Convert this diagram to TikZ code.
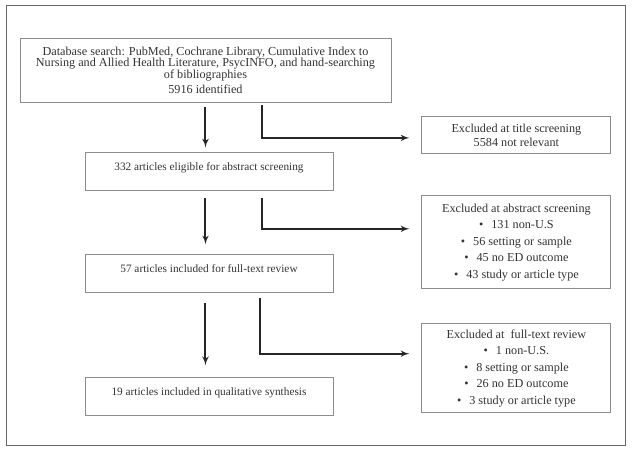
\documentclass[tikz,border=0pt]{standalone}
\usepackage{fontspec}
\setmainfont{Liberation Serif}
\usepackage{xcolor}
\usepackage{tikz}
\usetikzlibrary{positioning}
\usetikzlibrary{arrows}
\definecolor{boxgray}{gray}{0.55}
\definecolor{textgray}{gray}{0.2}
\tikzset{%
  flow box/.style={
    draw=boxgray,
    line width=0.9pt,
    text=textgray,
    align=center
  },
  stage box/.style={
    flow box,
    font=\fontsize{11.3pt}{13pt}\selectfont,
    minimum width=248pt,
    minimum height=38pt,
    text height=8pt,
    text depth=10pt
  },
  excluded box/.style={
    flow box,
    font=\fontsize{12.2pt}{14pt}\selectfont,
    minimum width=189pt,
    inner sep=0pt
  },
}

\begin{document}
\begin{tikzpicture}
      \tikzstyle{line} = [draw, -latex', line width=2pt, black!85]
      \useasboundingbox (-205.5pt,70pt) rectangle (426.5pt,-384pt);
      \draw[black!60, line width=0.8pt] (-199.5pt,65pt) rectangle (419.5pt,-375pt);

      % Search
      \def\srch{Search}
      \node[flow box, font=\fontsize{12.2pt}{11.6pt}\selectfont, minimum width=371pt, minimum height=64pt] (\srch) at (0, 0)
        {Database search: PubMed, Cochrane Library, Cumulative Index to\\
         Nursing and Allied Health Literature, PsycINFO, and hand-searching\\
         of bibliographies\\[3.5pt]
         5916 identified};

      % Eligible for abstract screening
      \def\elig{Eligible}
      \node[stage box, below = 50pt of \srch, xshift=3.5pt] (\elig) {332 articles eligible for abstract screening};

      % Included for full-text review
      \def\incl{Included}
      \node[stage box, below = 63pt of \elig] (\incl) {57 articles included for full-text review};

      % Synthesis
      \def\synth{Synthesis}
      \node[stage box, below = 84pt of \incl] (\synth) {19 articles included in qualitative synthesis};

      % Excluded boxes
      \def\exTitle{ExTitle}
      \node[excluded box, minimum height=37pt, below right = 14pt and 30pt of \srch.south east] (\exTitle)
        {Excluded at title screening\\5584 not relevant};

      \def\exAbs{ExAbstract}
      \node[excluded box, minimum height=93pt, below = 41pt of \exTitle] (\exAbs)
        {Excluded at abstract screening\\[2.5pt]
         \textbullet\hspace{8pt}131 non-U.S\\[2.5pt]
         \textbullet\hspace{8pt}56 setting or sample\\[2.5pt]
         \textbullet\hspace{8pt}45 no ED outcome\\[2.5pt]
         \textbullet\hspace{8pt}43 study or article type};

      \def\exFull{ExFull}
      \node[excluded box, minimum height=89pt, below = 34pt of \exAbs] (\exFull)
        {Excluded at~ full-text review\\[2.5pt]
         \textbullet\hspace{8pt}1 non-U.S.\\[2.5pt]
         \textbullet\hspace{8pt}8 setting or sample\\[2.5pt]
         \textbullet\hspace{8pt}26 no ED outcome\\[2.5pt]
         \textbullet\hspace{8pt}3 study or article type};

      % main flow
      \path[line] ([yshift=-5pt]\srch.south) -- ([yshift=5pt]\srch.south |- \elig.north);
      \path[line] ([yshift=-7pt]\srch.south |- \elig.south) -- ([yshift=10pt]\srch.south |- \incl.north);
      \path[line] ([yshift=-10pt]\srch.south |- \incl.south) -- ([yshift=12pt]\srch.south |- \synth.north);

      % exclusions
      \path[line] ([xshift=56.5pt,yshift=-3pt]\srch.south) |- ([xshift=-12pt,yshift=-2.5pt]\exTitle.west);
      \path[line] ([xshift=53pt,yshift=-7pt]\elig.south) |- ([xshift=-12pt,yshift=13.5pt]\exAbs.west);
      \path[line] ([xshift=51pt,yshift=-5pt]\incl.south) |- ([xshift=-12pt,yshift=14.5pt]\exFull.west);
\end{tikzpicture}
\end{document}
